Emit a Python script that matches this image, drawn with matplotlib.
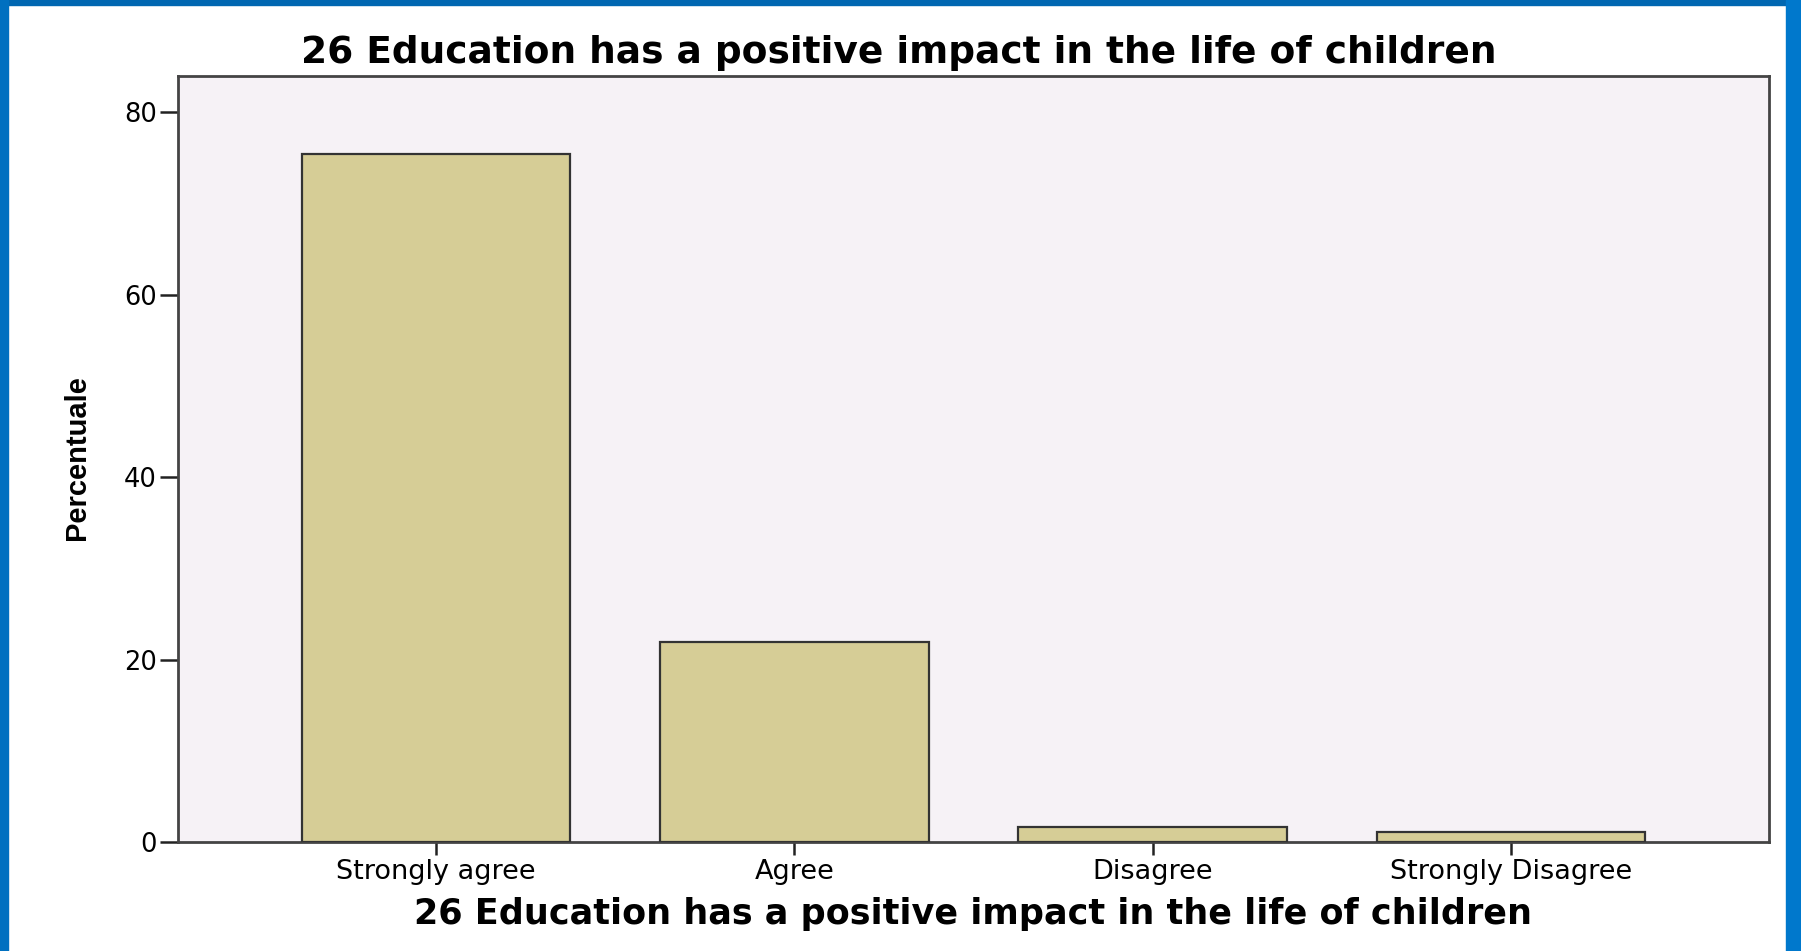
import matplotlib
matplotlib.use("Agg")
import matplotlib.pyplot as plt
from matplotlib import font_manager
from matplotlib.patches import Rectangle

categories = ["Strongly agree", "Agree", "Disagree", "Strongly Disagree"]
percent = [75.4, 21.9, 1.6, 1.1]
yticks = [0, 20, 40, 60, 80]
title = "26 Education has a positive impact in the life of children"

names = {f.name for f in font_manager.fontManager.ttflist}
narrow = "Liberation Sans Narrow" if "Liberation Sans Narrow" in names else "Liberation Sans"
# the source image is stretched sideways, so a wide face fits the horizontal text better
plt.rcParams['font.family'] = ['DejaVu Sans']

fig = plt.figure(figsize=(18.01, 9.51), dpi=100)
ax = fig.add_axes([0.0988, 0.1146, 0.8834, 0.8057])

x = range(len(categories))
ax.bar(x, percent, width=0.75, color="#D6CD96", edgecolor="#333333", linewidth=1.6, zorder=3)

ax.set_facecolor("#F6F2F6")
ax.set_xlim(-0.72, 3.72)
ax.set_ylim(0, 84)
ax.set_yticks(yticks)
ax.set_xticks(list(x))
ax.set_xticklabels(categories)
ax.tick_params(axis='y', length=13, width=1.8, color="#222222", labelsize=18.5, pad=2)
ax.tick_params(axis='x', length=9, width=1.8, color="#222222", labelsize=19.5, pad=3)
for s in ax.spines.values():
    s.set_color("#444444")
    s.set_linewidth(2)

fig.text(0.499, 0.944, title, ha='center', va='center', fontsize=27, fontweight='bold')
ax.set_xlabel(title, fontsize=25.2, fontweight='bold', labelpad=9)
fig.text(0.0428, 0.519, "Percentuale", ha='center', va='center', rotation=90,
         fontsize=25 if narrow != "Liberation Sans" else 21, fontweight='bold', family=narrow)

# blue slide frame
fig.patches.append(Rectangle((0, 0.9945), 1, 0.0055, transform=fig.transFigure, color="#0067B1", zorder=0))
fig.patches.append(Rectangle((0, 0), 0.0042, 1, transform=fig.transFigure, color="#0070C0", zorder=0))
fig.patches.append(Rectangle((0.9917, 0), 0.0083, 1, transform=fig.transFigure, color="#0078CC", zorder=0))

fig.savefig("out.png", dpi=100)
